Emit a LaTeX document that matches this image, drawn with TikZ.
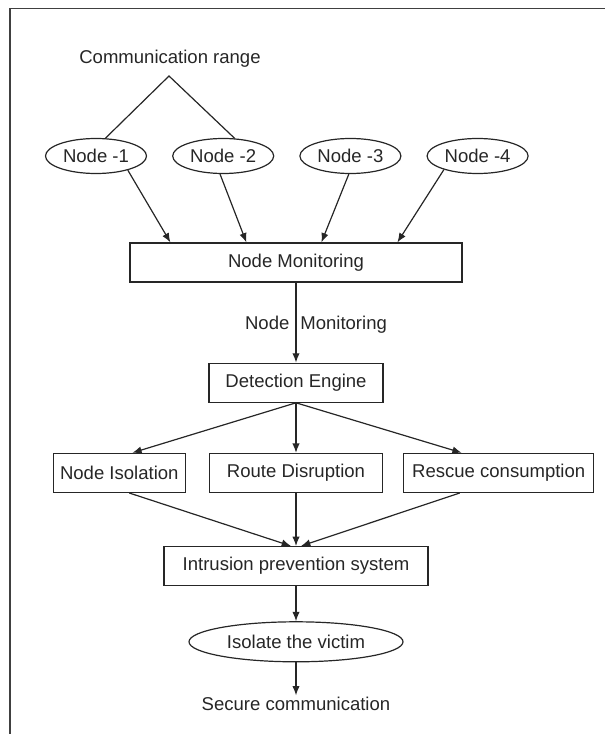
\documentclass[tikz,border=0pt]{standalone}
\usepackage{fontspec}
\setmainfont{Liberation Sans}
\usetikzlibrary{shapes,arrows.meta,positioning,calc}

\begin{document}
\begin{tikzpicture}[
    x=0.75pt, y=-0.75pt,
    node distance=18.75pt,
    font=\fontsize{13.9}{16}\selectfont,
    box/.style={rectangle, draw=black!85, line width=0.9pt, text=black!85,
                minimum height=29.25pt, inner sep=2pt},
    oval/.style={ellipse, draw=black!85, line width=0.9pt, text=black!85,
                 minimum width=75.75pt, minimum height=26.25pt, inner sep=0pt},
    plain/.style={inner sep=1pt, text=black!85},
    arrow/.style={-{Latex[length=7pt,width=5.5pt]}, line width=0.9pt, black!85},
    link/.style={line width=0.9pt, black!85}
]

% page frame
\useasboundingbox (0,0) rectangle (605,734);
\draw[line width=1.3pt, black!75] (10,734) -- (10,8.5) -- (605,8.5);

\node[plain] (range) at (170,59) {Communication range};
\coordinate (apex) at (169,76);

\node[oval] (n1) at (96,156) {Node -1};
\node[oval, right=of n1] (n2) {Node -2};
\node[oval, right=of n2] (n3) {Node -3};
\node[oval, right=of n3] (n4) {Node -4};

\node[box, minimum width=249pt] (monitor) at (296,262.5) {Node Monitoring};

\node[box, minimum width=130.5pt, below=60pt of monitor] (engine) {Detection Engine};

\node[box, minimum width=129.75pt, below=37.5pt of engine] (route) {Route Disruption};
\node[box, minimum width=99pt, left=17.25pt of route] (isolation) {Node Isolation};
\node[box, minimum width=142.5pt, right=15pt of route] (rescue) {Rescue consumption};

\node[box, minimum width=198pt, below=39.75pt of route] (ips) {Intrusion prevention system};
\node[oval, minimum width=160.5pt, minimum height=30pt, below=26.25pt of ips] (victim) {Isolate the victim};
\node[plain, below=24.75pt of victim] (secure) {Secure communication};

\node[plain] (mlabel) at (316,325) {Node\hspace{8.25pt}Monitoring};

% range lines
\draw[link] (n1.62) -- (apex) -- (n2.57);

% nodes to monitoring
\draw[arrow] (n1.-24) -- ($(monitor.north west)+(41,0)$);
\draw[arrow] (n2.-100) -- ($(monitor.north west)+(117,0)$);
\draw[arrow] (n3.-95) -- ($(monitor.north west)+(192,0)$);
\draw[arrow] (n4.202) -- ($(monitor.north west)+(268,0)$);

\draw[arrow] (monitor) -- (engine);

\draw[arrow] (engine.south) -- ($(isolation.north)+(13,0)$);
\draw[arrow] (engine.south) -- (route.north);
\draw[arrow] (engine.south) -- ($(rescue.north)+(-37,0)$);

\draw[arrow] ($(isolation.south)+(10,0)$) -- ($(ips.north)+(-5,0)$);
\draw[arrow] (route) -- (ips);
\draw[arrow] ($(rescue.south)+(-39,0)$) -- ($(ips.north)+(5,0)$);

\draw[arrow] (ips) -- (victim);
\draw[arrow] (victim) -- (secure);

\end{tikzpicture}
\end{document}
